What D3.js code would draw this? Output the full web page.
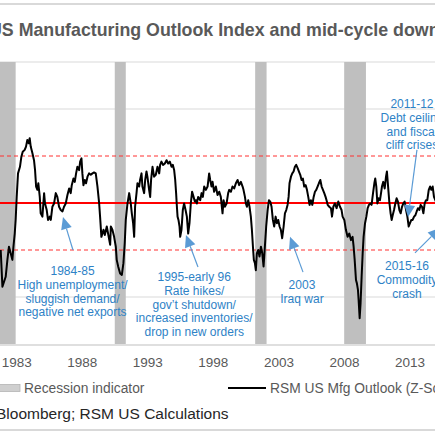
<!DOCTYPE html>
<html>
<head>
<meta charset="utf-8">
<script src="https://cdn.jsdelivr.net/npm/d3@7"></script>
<style>
  body { margin: 0; background: #fff; }
  svg { display: block; font-family: "Liberation Sans", Arial, sans-serif; }
</style>
</head>
<body>
<svg id="chart" width="435" height="435"></svg>
<script>
// decimal years and z-score readings of the RSM US Mfg Outlook line
const years = [
  1981.78, 1981.91, 1982.16, 1982.29, 1982.41, 1982.54, 1982.67, 1982.75, 1982.85, 1982.92,
  1983.00, 1983.10, 1983.25, 1983.36, 1983.46, 1983.61, 1983.71, 1983.81, 1983.92, 1983.99,
  1984.07, 1984.20, 1984.32, 1984.40, 1984.48, 1984.58, 1984.65, 1984.76, 1984.83, 1984.96,
  1985.09, 1985.16, 1985.29, 1985.39, 1985.52, 1985.60, 1985.72, 1985.85, 1985.98, 1986.10,
  1986.23, 1986.36, 1986.49, 1986.61, 1986.74, 1986.87, 1987.00, 1987.12, 1987.20, 1987.33,
  1987.43, 1987.53, 1987.63, 1987.76, 1987.84, 1987.94, 1988.01, 1988.09, 1988.19, 1988.29,
  1988.40, 1988.52, 1988.65, 1988.78, 1988.90, 1989.03, 1989.16, 1989.29, 1989.36, 1989.46,
  1989.62, 1989.72, 1989.87, 1989.97, 1990.13,
  1990.18, 1990.30, 1990.43, 1990.56, 1990.63, 1990.74, 1990.89, 1991.02, 1991.14, 1991.24,
  1991.32, 1991.45, 1991.58, 1991.70, 1991.78, 1991.88, 1991.96, 1992.03, 1992.14, 1992.21,
  1992.34, 1992.41, 1992.52, 1992.59, 1992.72, 1992.80, 1992.90, 1992.97, 1993.10, 1993.18,
  1993.25, 1993.36, 1993.48, 1993.61, 1993.74, 1993.87, 1993.94, 1994.04, 1994.17, 1994.30,
  1994.43, 1994.55, 1994.68, 1994.81, 1994.91, 1995.01, 1995.09, 1995.16, 1995.21, 1995.27,
  1995.34, 1995.42, 1995.47, 1995.57, 1995.67, 1995.77, 1995.88, 1995.98, 1996.08, 1996.18,
  1996.28, 1996.38, 1996.49, 1996.59, 1996.66, 1996.74, 1996.84, 1997.00, 1997.10, 1997.20,
  1997.30, 1997.43, 1997.56, 1997.68, 1997.76, 1997.86, 1997.94, 1998.06, 1998.19, 1998.32,
  1998.45,
  1998.57, 1998.70, 1998.78, 1998.88, 1999.01, 1999.13, 1999.21, 1999.34, 1999.46, 1999.59,
  1999.72, 1999.85, 1999.97, 2000.10, 2000.23, 2000.30, 2000.41, 2000.48, 2000.56, 2000.66,
  2000.76, 2000.86, 2000.94, 2001.02, 2001.09, 2001.17, 2001.24, 2001.32, 2001.42, 2001.52,
  2001.63, 2001.73, 2001.83, 2001.93, 2002.03, 2002.14, 2002.24, 2002.34, 2002.44, 2002.54,
  2002.64, 2002.75, 2002.85, 2002.95, 2003.05, 2003.15, 2003.25, 2003.36, 2003.46, 2003.56,
  2003.66, 2003.74, 2003.81, 2003.92, 2004.02, 2004.12, 2004.22, 2004.32, 2004.43, 2004.53,
  2004.63, 2004.73, 2004.83, 2004.93, 2005.04, 2005.14, 2005.24, 2005.34, 2005.44, 2005.55,
  2005.65, 2005.75, 2005.85, 2005.95, 2006.05, 2006.16, 2006.26, 2006.36, 2006.46, 2006.56,
  2006.66,
  2006.72, 2006.84, 2006.97, 2007.05, 2007.15, 2007.27, 2007.40, 2007.53, 2007.66, 2007.78,
  2007.86, 2007.99, 2008.11, 2008.24, 2008.37, 2008.50, 2008.62, 2008.70, 2008.78, 2008.88,
  2008.95, 2009.03, 2009.08, 2009.16, 2009.23, 2009.31, 2009.39, 2009.46, 2009.57, 2009.67,
  2009.77, 2009.87, 2009.97, 2010.07, 2010.18, 2010.28, 2010.35, 2010.43, 2010.51, 2010.61,
  2010.71, 2010.79, 2010.86, 2010.96, 2011.07, 2011.17, 2011.24, 2011.32, 2011.42, 2011.52,
  2011.60, 2011.68, 2011.78, 2011.88, 2011.98, 2012.08, 2012.19, 2012.29, 2012.39, 2012.49,
  2012.59, 2012.70, 2012.80, 2012.90, 2013.00, 2013.10, 2013.20, 2013.31, 2013.41, 2013.51,
  2013.61, 2013.71, 2013.81, 2013.92, 2014.02, 2014.12, 2014.22, 2014.32, 2014.43, 2014.53,
  2014.63, 2014.73, 2014.83, 2014.93, 2015.04
];
const zScores = [
  -1.00, -1.78, -1.57, -1.21, -0.93, -1.07, -1.21, -0.93, -0.65, -0.36,
  0.13, 0.63, 0.77, 0.99, 1.09, 1.13, 1.20, 1.34, 1.27, 1.38,
  1.20, 1.06, 0.91, 0.70, 0.35, 0.28, 0.42, 0.13, -0.22, -0.29,
  0.21, -0.01, -0.15, -0.36, -0.29, -0.36, -0.08, -0.01, 0.21, 0.13,
  -0.08, -0.15, -0.18, -0.08, -0.01, 0.17, 0.31, 0.21, 0.38, 0.52,
  0.45, 0.63, 0.77, 0.70, 0.88, 0.95, 0.63, 0.38, 0.49, 0.42,
  0.56, 0.63, 0.60, 0.63, 0.65, 0.63, 0.35, -0.01, -0.29, -0.72,
  -0.57, -0.68, -0.50, -0.65, -0.89,
  -0.50, -0.57, -0.72, -0.93, -1.21, -1.35, -1.50, -1.53, -1.28, -0.86,
  -0.36, -0.01, 0.21, -0.01, -0.22, -0.43, -0.72, -0.08, 0.21, 0.42,
  0.35, 0.49, 0.63, 0.35, 0.21, 0.49, 0.67, 0.56, 0.28, 0.13,
  0.49, 0.77, 0.56, 0.60, 0.77, 0.63, 0.81, 0.88, 0.81, 0.84,
  0.91, 0.84, 0.88, 0.77, 0.81, 0.70, 0.49, 0.21, -0.04, -0.29,
  -0.36, -0.50, -0.72, -0.57, -0.15, -0.01, -0.15, -0.29, -0.65, -0.43,
  -0.01, 0.24, 0.13, 0.03, 0.06, -0.01, 0.13, 0.06, 0.21, 0.13,
  0.35, 0.28, 0.35, 0.63, 0.49, 0.35, 0.45, 0.24, 0.35, 0.17,
  0.24,
  0.13, -0.22, 0.06, -0.08, -0.01, 0.21, 0.28, 0.24, 0.35, 0.31,
  0.42, 0.49, 0.38, 0.45, 0.35, 0.28, 0.13, -0.01, -0.08, 0.06,
  -0.08, -0.29, -0.57, -0.93, -1.21, -1.28, -1.43, -1.07, -1.00, -1.14,
  -0.93, -1.07, -1.35, -0.93, -0.50, -0.15, 0.06, 0.03, -0.08, -0.36,
  -0.50, -0.29, -0.43, -0.36, -0.50, -0.57, -0.75, -0.50, -0.22, -0.15,
  -0.04, 0.13, 0.42, 0.56, 0.63, 0.67, 0.77, 0.81, 0.74, 0.67,
  0.60, 0.49, 0.52, 0.35, 0.38, 0.28, 0.13, -0.04, 0.06, -0.04,
  0.13, 0.24, 0.28, 0.35, 0.42, 0.49, 0.35, 0.28, 0.21, 0.13,
  0.03,
  -0.04, -0.08, -0.11, -0.29, -0.08, -0.01, -0.11, 0.03, -0.08, -0.15,
  -0.29, -0.36, -0.57, -0.72, -0.65, -0.79, -0.72, -0.93, -1.21, -1.64,
  -1.71, -1.85, -2.06, -2.45, -2.13, -1.57, -1.07, -0.72, -0.43, -0.29,
  -0.11, -0.04, -0.01, -0.04, 0.21, 0.42, 0.52, 0.35, -0.01, 0.10,
  0.06, 0.21, 0.35, 0.45, 0.31, 0.56, 0.67, 0.38, 0.03, -0.22,
  -0.36, -0.26, -0.15, -0.01, 0.10, 0.03, -0.15, -0.22, -0.08, -0.01,
  0.03, -0.15, -0.29, -0.50, -0.43, -0.36, -0.36, -0.29, -0.26, -0.18,
  -0.11, -0.15, -0.04, -0.08, -0.22, -0.01, 0.06, 0.06, 0.28, 0.35,
  0.28, 0.35, 0.13, 0.06, -0.01
];
const recessions = [[1981.5, 1982.92], [1990.48, 1991.32], [2001.19, 2002.06], [2007.98, 2009.64]];
const tickYears = [1983, 1988, 1993, 1998, 2003, 2008, 2013];
const grayLevels = [-2, 2, 3];
const bandLevels = [-1, 1];

const notes = [
  { lines: ["1984-85", "High unemployment/", "sluggish demand/", "negative net exports"],
    at: [1987.26, -1.53], tail: [1987.29, -1.00], tip: [1986.53, -0.30] },
  { lines: ["1995-early 96", "Rate hikes/", "gov\u2019t shutdown/", "increased inventories/", "drop in new orders"],
    at: [1996.54, -1.66], tail: [1996.83, -1.36], tip: [1995.91, -0.68] },
  { lines: ["2003", "Iraq war"],
    at: [2004.76, -1.83], tail: [2004.84, -1.47], tip: [2003.85, -0.72] },
  { lines: ["2015-16", "Commodity", "crash"],
    at: [2012.77, -1.43], tail: [2013.38, -1.06], tip: [2015.29, -0.53] },
  { lines: ["2011-12", "Debt ceiling", "and fiscal", "cliff crises"],
    at: [2013.15, 2.02], tail: [2013.53, 1.13], tip: [2012.85, -0.30] }
];

const svg = d3.select("#chart");
const W = 435;
const plotTop = 62, plotBottom = 344;

const x = d3.scaleLinear().domain([1983, 2013]).range([16.7, 410]);
const y = d3.scaleLinear().domain([-3, 3]).range([plotBottom, plotTop]);

// frame rules
svg.append("line").attr("x1", 0).attr("x2", W).attr("y1", 4).attr("y2", 4)
  .attr("stroke", "#d9d9d9").attr("stroke-width", 2);
svg.append("line").attr("x1", 0).attr("x2", W).attr("y1", 430).attr("y2", 430)
  .attr("stroke", "#d9d9d9").attr("stroke-width", 2);

svg.append("text").attr("x", -11).attr("y", 36)
  .attr("font-size", 17.8).attr("font-weight", "bold").attr("fill", "#595959")
  .text("US Manufacturing Outlook Index and mid-cycle downturns");

// gridlines
svg.selectAll(".grid").data(grayLevels).enter().append("line")
  .attr("x1", 0).attr("x2", W)
  .attr("y1", d => y(d)).attr("y2", d => y(d))
  .attr("stroke", "#d9d9d9").attr("stroke-width", 1.2);

svg.selectAll(".rec").data(recessions).enter().append("rect")
  .attr("x", d => x(d[0])).attr("width", d => x(d[1]) - x(d[0]))
  .attr("y", y(3)).attr("height", y(-3) - y(3))
  .attr("fill", "#bfbfbf");

// x axis line
svg.append("line").attr("x1", 0).attr("x2", W).attr("y1", plotBottom + 1).attr("y2", plotBottom + 1)
  .attr("stroke", "#d4d4d4").attr("stroke-width", 1.5);

svg.selectAll(".band").data(bandLevels).enter().append("line")
  .attr("x1", 0).attr("x2", W)
  .attr("y1", d => y(d)).attr("y2", d => y(d))
  .attr("stroke", "#ff3030").attr("stroke-width", 1).attr("stroke-dasharray", "4 3");
svg.append("line").attr("x1", 0).attr("x2", W).attr("y1", y(0)).attr("y2", y(0))
  .attr("stroke", "#ff0000").attr("stroke-width", 2);

const series = years.map((yr, i) => [yr, zScores[i]]);
svg.append("path").datum(series)
  .attr("fill", "none").attr("stroke", "#000").attr("stroke-width", 2)
  .attr("stroke-linejoin", "round")
  .attr("d", d3.line().x(d => x(d[0])).y(d => y(d[1])));

// annotations
const noteG = svg.append("g");
notes.forEach(n => {
  const t = noteG.append("text")
    .attr("x", x(n.at[0])).attr("y", y(n.at[1]))
    .attr("text-anchor", "middle").attr("font-size", 12).attr("fill", "#2e82c6");
  n.lines.forEach((line, i) => {
    t.append("tspan").attr("x", x(n.at[0])).attr("dy", i ? 13.8 : 0).text(line);
  });

  const x0 = x(n.tail[0]), y0 = y(n.tail[1]);
  const x1 = x(n.tip[0]), y1 = y(n.tip[1]);
  const len = Math.hypot(x1 - x0, y1 - y0);
  const ux = (x1 - x0) / len, uy = (y1 - y0) / len;
  const headLen = 12, headHalf = 5.5;
  const bx = x1 - ux * headLen, by = y1 - uy * headLen;
  noteG.append("line").attr("x1", x0).attr("y1", y0).attr("x2", bx).attr("y2", by)
    .attr("stroke", "#5b9bd5").attr("stroke-width", 1.2);
  noteG.append("path")
    .attr("d", `M${x1},${y1}L${bx - uy * headHalf},${by + ux * headHalf}L${bx + uy * headHalf},${by - ux * headHalf}Z`)
    .attr("fill", "#5b9bd5");
});

// x tick labels
svg.selectAll(".tick").data(tickYears).enter().append("text")
  .attr("x", d => x(d)).attr("y", 367)
  .attr("text-anchor", "middle").attr("font-size", 13.5).attr("fill", "#595959")
  .text(d => d);

// legend
svg.append("rect").attr("x", -2).attr("y", 384.5).attr("width", 22).attr("height", 7)
  .attr("fill", "#cfcfcf").attr("stroke", "#b3b3b3").attr("stroke-width", 0.8);
svg.append("text").attr("x", 24).attr("y", 393).attr("font-size", 13.8).attr("fill", "#595959")
  .text("Recession indicator");
svg.append("line").attr("x1", 228).attr("x2", 266).attr("y1", 388).attr("y2", 388)
  .attr("stroke", "#000").attr("stroke-width", 2);
svg.append("text").attr("x", 270).attr("y", 393).attr("font-size", 13.8).attr("fill", "#595959")
  .text("RSM US Mfg Outlook (Z-Score)");

svg.append("text").attr("x", -4).attr("y", 419).attr("font-size", 15.5).attr("fill", "#262626")
  .text("Bloomberg; RSM US Calculations");
</script>
</body>
</html>
